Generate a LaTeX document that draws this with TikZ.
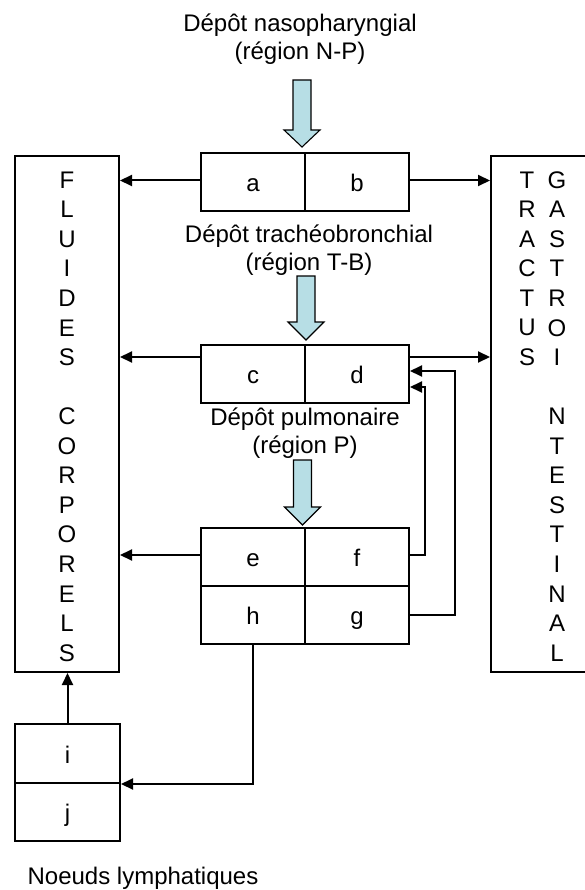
\documentclass[tikz,border=0pt]{standalone}
\usepackage{fontspec}
\setmainfont{Liberation Sans}
\usetikzlibrary{arrows.meta,calc}
\definecolor{aqua}{RGB}{183,222,229}
\newcommand\fatdown[4]{%
  \draw[fat] ({#1-9},#2) -- ({#1+9},#2) -- ({#1+9},#3) -- ({#1+18},#3) -- (#1,#4) -- ({#1-18},#3) -- ({#1-9},#3) -- cycle;}
\begin{document}
\begin{tikzpicture}[x=1pt,y=-1pt,
  cell/.style={draw, line width=2pt, minimum width=104pt, minimum height=58pt, inner sep=0pt, text height=19pt, text depth=0pt, font=\fontsize{24}{28}\selectfont},
  tall/.style={draw, line width=2pt, inner sep=0pt, minimum height=516pt},
  lbl/.style={align=center, font=\fontsize{24}{28}\selectfont, inner sep=0pt},
  ltr/.style={inner sep=0pt, font=\fontsize{24}{28}\selectfont},
  arr/.style={line width=2pt, -{Triangle[length=12pt,width=11pt]}},
  fat/.style={fill=aqua, draw=black, line width=1.1pt}
]
\useasboundingbox (0,0) rectangle (584,890);

% titles
\node[lbl] (np) at (300,39) {Dépôt nasopharyngial\\(région N-P)};
\node[lbl] (tb) at (309,250) {Dépôt trachéobronchial\\(région T-B)};
\node[lbl] (pul) at (305,433) {Dépôt pulmonaire\\(région P)};
\node[lbl] (lymph) at (143,878) {Noeuds lymphatiques};

% fat arrows
\fatdown{302}{80}{130}{147}
\fatdown{306}{276}{322}{340}
\fatdown{302.5}{460}{507}{525}

% cells
\node[cell] (a) at (253,182) {a};
\node[cell] (b) at (357,182) {b};
\node[cell] (c) at (253,373.5) {c};
\node[cell] (d) at (357,373.5) {d};
\node[cell] (e) at (253,557) {e};
\node[cell] (f) at (357,557) {f};
\node[cell] (h) at (253,615) {h};
\node[cell] (g) at (357,615) {g};
\node[cell, minimum width=105pt, minimum height=59pt] (i) at (67.5,753.5) {i};
\node[cell, minimum width=105pt] (j) at (67.5,812) {j};

% tall boxes
\node[tall, minimum width=104pt] (fluides) at (67,414) {};
\node[tall, minimum width=109pt] (tractus) at (545.5,414) {};

\foreach \ch [count=\k from 0] in {F,L,U,I,D,E,S}
  \node[ltr] (fl\k) at (67,{180+29.56*\k}) {\ch};
\foreach \ch [count=\k from 8] in {C,O,R,P,O,R,E,L,S}
  \node[ltr] (fl\k) at (67,{180+29.56*\k}) {\ch};
\foreach \ch [count=\k from 0] in {T,R,A,C,T,U,S}
  \node[ltr] (tr\k) at (527,{180+29.56*\k}) {\ch};
\foreach \ch [count=\k from 0] in {G,A,S,T,R,O,I}
  \node[ltr] (gi\k) at (557,{180+29.56*\k}) {\ch};
\foreach \ch [count=\k from 8] in {N,T,E,S,T,I,N,A,L}
  \node[ltr] (gi\k) at (557,{180+29.56*\k}) {\ch};

% connectors
\draw[arr] ([yshift=1.5pt]a.west) -- ([yshift=1.5pt]a.west -| fluides.east);
\draw[arr] ([yshift=1.5pt]b.east) -- ([yshift=1.5pt]b.east -| tractus.west);
\draw[arr] ([yshift=16.5pt]c.west) -- ([yshift=16.5pt]c.west -| fluides.east);
\draw[arr] ([yshift=16.5pt]d.east) -- ([yshift=16.5pt]d.east -| tractus.west);
\draw[arr] ([yshift=2pt]e.west) -- ([yshift=2pt]e.west -| fluides.east);
\draw[arr] ([yshift=2pt]f.east) -- ++(15,0) |- ([yshift=-13.5pt]d.east);
\draw[arr] (g.east) -- ++(45,0) |- ([yshift=2.5pt]d.east);
\draw[arr] (h.south) |- (i.south east);
\draw[arr] (i.north) -- (i.north |- fluides.south);
\end{tikzpicture}
\end{document}
